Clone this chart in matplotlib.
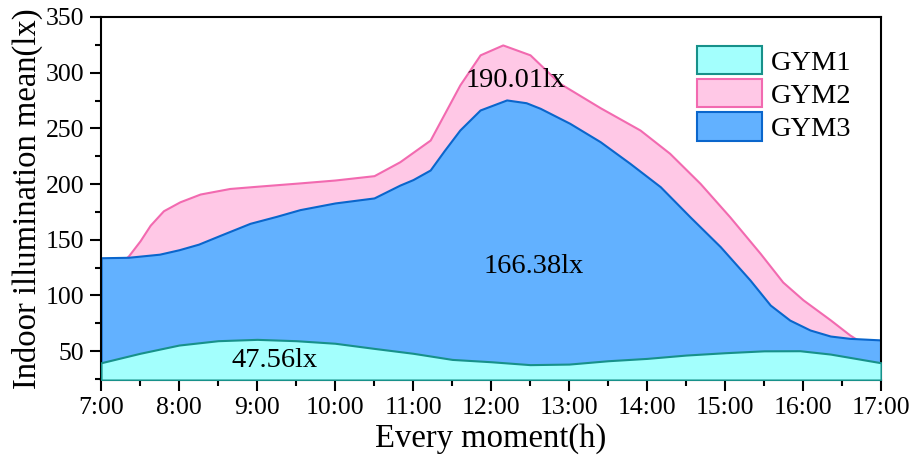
import matplotlib.pyplot as plt
from matplotlib.ticker import MultipleLocator, FixedLocator

plt.rcParams['font.family'] = ['Liberation Serif', 'DejaVu Serif']

# time in hours
H1 = [7.0, 7.5, 8.0, 8.5, 9.0, 9.5, 10.0, 10.5, 11.0, 11.5, 12.0, 12.5, 13.0,
      13.5, 14.0, 14.5, 15.0, 15.5, 15.96, 16.35, 17.0]
GYM1 = [39.5, 48, 55.4, 59.3, 60.5, 59.3, 57, 52.4, 48, 42.5, 40.4, 37.8, 38.3,
        41.3, 43.4, 46.4, 48.5, 50.2, 50.3, 47.3, 39.5]

H2 = [7.0, 7.35, 7.5, 7.63, 7.8, 8.01, 8.27, 8.65, 9.0, 9.55, 10.0, 10.5, 10.83,
      11.22, 11.6, 11.86, 12.15, 12.5, 12.88, 13.4, 13.91, 14.29, 14.68, 15.06,
      15.45, 15.74, 16.0, 16.35, 16.6, 16.7, 17.0]
GYM2 = [115, 135.3, 149, 163, 176, 184, 191, 196, 198, 201, 203.6, 207.5, 220,
        239.5, 289, 316, 324.9, 316, 290.5, 268.5, 248.5, 227.6, 200.6, 170.6,
        137.8, 112, 96, 78, 64.4, 60, 50]

H3 = [7.0, 7.35, 7.75, 8.0, 8.25, 8.53, 8.91, 9.25, 9.55, 10.0, 10.5, 10.83, 11.0,
      11.22, 11.4, 11.6, 11.86, 12.2, 12.45, 12.63, 13.01, 13.4, 13.78, 14.17,
      14.55, 14.94, 15.32, 15.58, 15.83, 16.09, 16.35, 16.6, 17.0]
GYM3 = [133.8, 134.2, 137, 141, 146, 154, 164.7, 171, 177, 183, 187.5, 199, 204,
        212.6, 230, 248.5, 266.5, 275.5, 273, 268, 254.5, 238, 218.6, 197.6,
        170.6, 143.7, 113.8, 91.3, 77.8, 68.9, 63.5, 61.4, 60]

TICK_HOURS = list(range(7, 18))
TICK_LABELS = [f'{h}:00' for h in TICK_HOURS]
LABELS = [('47.56lx', 9.23, 41.5), ('190.01lx', 12.31, 293), ('166.38lx', 12.55, 125.5)]

YMIN = 24

fig = plt.figure(figsize=(9.16, 4.59), dpi=100)
ax = fig.add_axes([0.1103, 0.1721, 0.8515, 0.7909])

ax.fill_between(H2, YMIN, GYM2, facecolor='#ffc8e6', edgecolor='#f26ab0',
                linewidth=1.5, label='GYM2', zorder=1)
ax.fill_between(H3, YMIN, GYM3, facecolor='#62b1ff', edgecolor='#0a66cc',
                linewidth=1.5, label='GYM3', zorder=2)
ax.fill_between(H1, YMIN, GYM1, facecolor='#a3fffd', edgecolor='#17918a',
                linewidth=1.5, label='GYM1', zorder=3)

for txt, x, y in LABELS:
    ax.text(x, y, txt, fontsize=20.5, ha='center', va='center', zorder=5)

ax.set_xlim(7, 17)
ax.set_ylim(YMIN, 350)
ax.xaxis.set_major_locator(FixedLocator(TICK_HOURS))
ax.set_xticklabels(TICK_LABELS)
ax.xaxis.set_minor_locator(MultipleLocator(0.5))
ax.yaxis.set_major_locator(FixedLocator([50, 100, 150, 200, 250, 300, 350]))
ax.yaxis.set_minor_locator(FixedLocator([25, 75, 125, 175, 225, 275, 325]))
ax.tick_params(which='major', direction='out', length=8, width=1.5, labelsize=18.5, pad=4)
ax.tick_params(which='minor', direction='out', length=4, width=1.5)
for s in ax.spines.values():
    s.set_linewidth(1.5)

ax.set_xlabel('Every moment(h)', fontsize=23.5, labelpad=3)
ax.set_ylabel('Indoor illumination mean(lx)', fontsize=23.5, labelpad=2)

h, l = ax.get_legend_handles_labels()
order = [2, 0, 1]
ax.legend([h[i] for i in order], [l[i] for i in order], loc='upper left',
          bbox_to_anchor=(697 / 916, 1 - 46 / 459), bbox_transform=fig.transFigure,
          frameon=False, fontsize=20.5, borderpad=0, borderaxespad=0,
          handlelength=2.3, handleheight=1.15, labelspacing=0.12, handletextpad=0.3)

fig.savefig('out.png', dpi=100)
